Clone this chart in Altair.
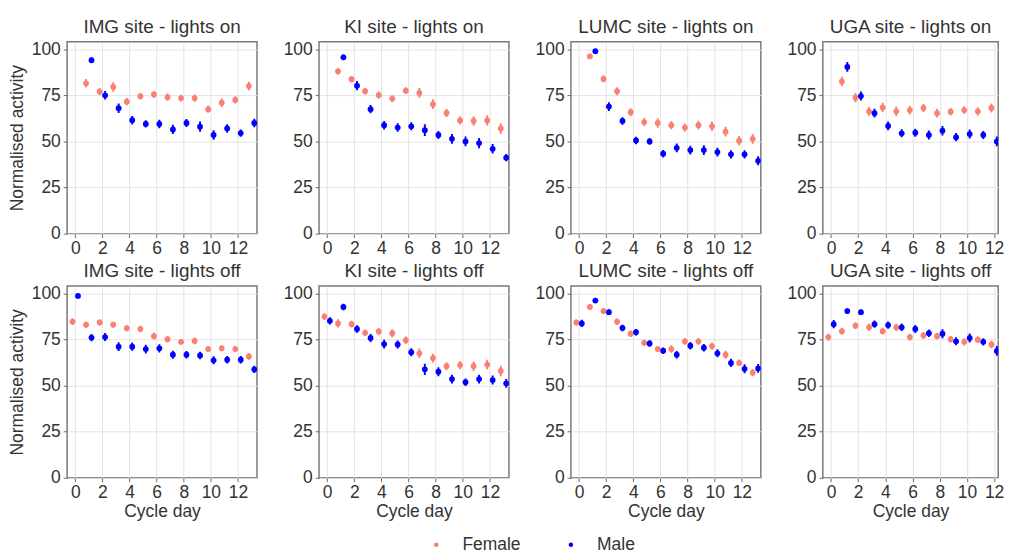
import altair as alt
import pandas as pd

FONT = "Liberation Sans"
TXT = "#333333"

sites = ["IMG", "KI", "LUMC", "UGA"]
sexes = ["Female", "Male"]
colors = ["#FA8072", "#0000FF"]
days_on = list(range(1, 14))
days_off = list(range(0, 14))
x_ticks = [0, 2, 4, 6, 8, 10, 12]
y_ticks = [0, 25, 50, 75, 100]

# ---- lights on (cycle days 1..13) ----
img_on_f = [81.5, 77.0, 79.5, 71.5, 74.5, 75.5, 74.0, 73.5, 73.5, 67.5, 71.0, 72.5, 80.0]
img_on_m = [94.0, 75.0, 68.0, 61.5, 59.5, 59.5, 56.5, 60.0, 58.0, 53.5, 57.0, 54.5, 60.0]
ki_on_f = [88.0, 83.7, 77.2, 75.1, 73.2, 77.5, 76.3, 70.2, 65.4, 61.4, 61.1, 61.4, 57.0]
ki_on_m = [95.6, 80.2, 67.5, 58.8, 57.5, 58.2, 56.1, 53.5, 51.4, 50.0, 49.1, 46.0, 41.2]
lumc_on_f = [96.1, 83.9, 77.2, 65.8, 60.5, 60.0, 58.8, 57.5, 58.8, 58.2, 55.3, 50.4, 51.4]
lumc_on_m = [98.9, 68.9, 61.1, 50.5, 50.0, 43.3, 46.5, 45.3, 45.3, 44.2, 43.0, 43.0, 39.5]
uga_on_f = [82.5, 73.7, 66.3, 68.4, 66.3, 67.0, 68.1, 65.3, 66.1, 67.0, 66.3, 68.1, 65.0]
uga_on_m = [90.4, 74.6, 65.3, 58.4, 54.4, 54.7, 53.5, 55.8, 52.3, 54.0, 53.5, 50.0, 49.0]

img_on_f_err = [2.3, 1.8, 2.6, 2.0, 1.8, 1.8, 2.0, 1.8, 2.0, 2.0, 2.3, 2.0, 2.3]
img_on_m_err = [1.5, 2.3, 2.6, 2.3, 2.0, 2.3, 2.5, 2.2, 2.8, 2.6, 2.3, 2.0, 2.3]
ki_on_f_err = [1.8, 1.8, 1.8, 2.0, 1.8, 1.8, 2.6, 2.6, 2.2, 2.2, 2.6, 2.8, 2.8]
ki_on_m_err = [1.5, 2.5, 2.2, 2.3, 2.3, 2.2, 3.2, 2.2, 2.6, 2.6, 2.8, 2.6, 2.0]
lumc_on_f_err = [1.2, 2.0, 2.2, 2.2, 2.2, 2.6, 2.2, 2.2, 2.4, 2.6, 2.6, 2.6, 2.6]
lumc_on_m_err = [1.2, 2.4, 2.0, 2.0, 1.8, 2.0, 2.4, 2.4, 2.6, 2.4, 2.2, 2.2, 2.4]
uga_on_f_err = [2.6, 2.6, 2.4, 2.6, 2.6, 2.4, 2.2, 2.4, 2.0, 2.0, 2.2, 2.4, 2.6]
uga_on_m_err = [2.6, 2.4, 2.4, 2.4, 2.2, 2.2, 2.4, 2.6, 2.2, 2.4, 2.2, 2.6, 2.6]

# ---- lights off (cycle days 0..13) ----
img_off_f = [84.7, 83.0, 84.2, 83.0, 81.1, 80.7, 76.8, 75.1, 73.7, 74.2, 69.8, 70.2, 69.8, 65.8]
img_off_m = [98.6, 76.0, 76.3, 71.1, 71.1, 69.8, 70.2, 66.7, 66.7, 66.3, 63.7, 64.0, 64.0, 58.8]
ki_off_f = [87.4, 83.7, 83.3, 78.6, 79.3, 78.4, 74.6, 67.5, 64.9, 60.5, 61.1, 60.5, 61.4, 57.9]
ki_off_m = [85.1, 92.6, 80.7, 75.8, 72.5, 72.3, 68.1, 58.8, 57.5, 53.5, 51.8, 53.5, 53.0, 51.2]
lumc_off_f = [84.2, 92.6, 90.4, 84.6, 78.1, 73.2, 69.8, 69.8, 74.0, 74.0, 71.4, 66.7, 62.3, 57.0]
lumc_off_m = [83.7, 96.1, 89.8, 81.2, 78.9, 72.8, 68.9, 66.7, 71.6, 70.5, 67.5, 62.3, 59.1, 59.3]
uga_off_f = [76.3, 79.5, 82.5, 81.6, 79.5, 81.6, 76.3, 77.2, 76.8, 75.1, 73.7, 74.9, 72.3, 71.0]
uga_off_m = [83.3, 90.4, 89.8, 83.3, 82.8, 81.6, 80.7, 78.4, 78.1, 74.0, 75.8, 73.7, 68.8, 68.0]

img_off_f_err = [1.8, 1.6, 1.6, 1.6, 1.6, 1.8, 1.8, 1.8, 1.6, 1.8, 1.6, 1.6, 1.6, 1.8]
img_off_m_err = [1.2, 2.0, 2.2, 2.4, 2.2, 2.4, 2.2, 2.2, 2.0, 2.0, 2.2, 2.0, 2.0, 2.0]
ki_off_f_err = [1.8, 2.2, 1.8, 1.8, 2.0, 2.2, 2.0, 2.6, 2.4, 2.2, 2.2, 2.6, 2.6, 2.8]
ki_off_m_err = [2.0, 1.8, 2.0, 2.2, 2.4, 2.2, 2.2, 3.0, 2.4, 2.4, 2.0, 2.4, 2.4, 2.4]
lumc_off_f_err = [1.6, 1.4, 1.6, 1.8, 1.8, 1.8, 1.6, 2.0, 1.8, 1.8, 2.0, 2.2, 1.8, 2.0]
lumc_off_m_err = [2.0, 1.4, 1.6, 1.8, 1.8, 1.8, 1.8, 2.0, 2.0, 2.0, 2.2, 2.2, 2.4, 2.4]
uga_off_f_err = [2.0, 1.8, 1.8, 2.0, 1.8, 2.0, 1.8, 1.8, 1.8, 1.8, 2.0, 1.8, 2.0, 2.0]
uga_off_m_err = [2.2, 1.4, 1.4, 2.0, 2.0, 2.0, 2.2, 2.0, 2.4, 2.2, 2.4, 2.0, 2.6, 2.4]

series = {
    ("IMG", "on"): (img_on_f, img_on_m, img_on_f_err, img_on_m_err),
    ("KI", "on"): (ki_on_f, ki_on_m, ki_on_f_err, ki_on_m_err),
    ("LUMC", "on"): (lumc_on_f, lumc_on_m, lumc_on_f_err, lumc_on_m_err),
    ("UGA", "on"): (uga_on_f, uga_on_m, uga_on_f_err, uga_on_m_err),
    ("IMG", "off"): (img_off_f, img_off_m, img_off_f_err, img_off_m_err),
    ("KI", "off"): (ki_off_f, ki_off_m, ki_off_f_err, ki_off_m_err),
    ("LUMC", "off"): (lumc_off_f, lumc_off_m, lumc_off_f_err, lumc_off_m_err),
    ("UGA", "off"): (uga_off_f, uga_off_m, uga_off_f_err, uga_off_m_err),
}

rows = []
for (site, light), (vf, vm, ef, em) in series.items():
    days = days_on if light == "on" else days_off
    for sex, vals, errs in (("Female", vf, ef), ("Male", vm, em)):
        for d, v, e in zip(days, vals, errs):
            rows.append({"site": site, "light": light, "sex": sex,
                         "day": d, "value": v, "err": e})
df = pd.DataFrame(rows)

color = alt.Color(
    "sex:N",
    scale=alt.Scale(domain=sexes, range=colors),
    legend=alt.Legend(
        title=None, orient="none", direction="horizontal",
        legendX=372, legendY=510, symbolType="circle", symbolSize=22,
        symbolStrokeWidth=0, labelFontSize=18, labelFont=FONT,
        labelColor=TXT, columnPadding=42, labelOffset=18,
    ),
)

PX_PER_DAY = 14.0
X_MIN = -0.6


def panel(site, light, first_col, bottom_row, last_col):
    x_max = 12.3 if last_col else 13.4
    width = round((x_max - X_MIN) * PX_PER_DAY)
    base = alt.Chart(df).transform_filter(
        (alt.datum.site == site) & (alt.datum.light == light)
    ).transform_calculate(
        xpos="datum.day + (datum.sex == 'Female' ? -0.2 : 0.2)",
        lo="datum.value - datum.err",
        hi="datum.value + datum.err",
    )
    xs = alt.Scale(domain=[X_MIN, x_max], nice=False, zero=False)
    ys = alt.Scale(domain=[0, 104], nice=False, zero=True)
    xax = alt.Axis(values=x_ticks, title="Cycle day" if bottom_row else None,
                   labelFlush=False, labelOverlap=False, titlePadding=2)
    yax = alt.Axis(values=y_ticks,
                   title="Normalised activity" if first_col else None,
                   labelFlush=False, labelOverlap=False,
                   titlePadding=5, labelPadding=3)
    pts = base.mark_circle(size=36, opacity=1, clip=True).encode(
        x=alt.X("xpos:Q", scale=xs, axis=xax),
        y=alt.Y("value:Q", scale=ys, axis=yax),
        color=color,
    )
    bars = base.mark_rule(strokeWidth=2, clip=True).encode(
        x=alt.X("xpos:Q", scale=xs, axis=xax),
        y=alt.Y("lo:Q", scale=ys, axis=yax),
        y2="hi:Q",
        color=color,
    )
    return alt.layer(pts, bars).properties(
        width=width, height=198,
        title=alt.TitleParams(f"{site} site - lights {light}"),
    )


row1 = alt.hconcat(*[panel(s, "on", i == 0, False, i == 3) for i, s in enumerate(sites)],
                   spacing=25)
row2 = alt.hconcat(*[panel(s, "off", i == 0, True, i == 3) for i, s in enumerate(sites)],
                   spacing=25)

chart = alt.vconcat(row1, row2, spacing=3).properties(
    padding={"left": 0, "top": 0, "right": 0, "bottom": 0}
).configure_view(
    stroke="#777777", strokeWidth=1.5
).configure_axis(
    grid=True, gridColor="#e2e2e2", gridWidth=1, domain=False,
    tickColor="#666666", tickSize=4, labelFontSize=18, titleFontSize=18,
    labelColor=TXT, titleColor=TXT, labelFont=FONT, titleFont=FONT,
    titleFontWeight="normal", labelPadding=2,
).configure_title(
    fontSize=19.5, font=FONT, color=TXT, fontWeight="normal", offset=3
)

chart.save("out.html", embed_options={"renderer": "svg", "actions": False})
